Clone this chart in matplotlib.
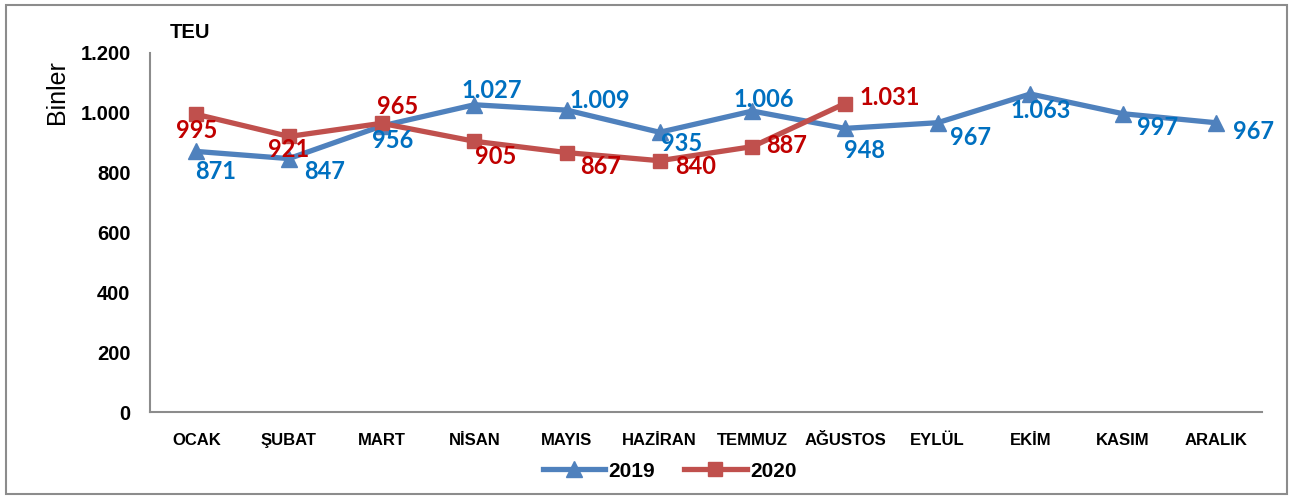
import matplotlib
matplotlib.use("Agg")
from matplotlib import pyplot as plt
from matplotlib.patches import Rectangle
from matplotlib.ticker import FixedLocator, FuncFormatter

months = ["OCAK", "ŞUBAT", "MART", "NİSAN", "MAYIS", "HAZİRAN", "TEMMUZ",
          "AĞUSTOS", "EYLÜL", "EKİM", "KASIM", "ARALIK"]
teu_2019 = [871, 847, 956, 1027, 1009, 935, 1006, 948, 967, 1063, 997, 967]
teu_2020 = [995, 921, 965, 905, 867, 840, 887, 1031]
y_ticks = [0, 200, 400, 600, 800, 1000, 1200]

# label offsets in pixels (dx right, dy down) from each point
off_2019 = [(19, 20), (36, 13), (11, 15), (17, -14), (33, -10), (22, 11),
            (11, -12), (20, 22), (33, 15), (10, 17), (35, 14), (38, 9)]
off_2020 = [(0, 16), (0, 13), (16, -17), (21, 15), (34, 14), (36, 6),
            (34, -1), (45, -6)]

narrow = ["Liberation Sans Narrow", "Liberation Sans", "DejaVu Sans"]
arial = ["Liberation Sans", "DejaVu Sans"]
lab_font = ["Lato", "DejaVu Sans"]


def tr_num(v):
    return f"{int(v):,}".replace(",", ".")


fig = plt.figure(figsize=(12.95, 4.99), dpi=100)
ax = fig.add_axes([0.1158, 0.1743, 0.9745 - 0.1158, 0.8938 - 0.1743])

fig.patches.append(Rectangle((0.005, 0.01), 0.989, 0.98, transform=fig.transFigure,
                             fill=False, edgecolor="#8c8c8c", linewidth=1.5))

x = list(range(len(months)))
ax.plot(x, teu_2019, color="#4F81BD", linewidth=3.8, marker="^", markersize=11,
        label="2019", clip_on=False)
ax.plot(x[:len(teu_2020)], teu_2020, color="#C0504D", linewidth=3.8, marker="s",
        markersize=10.5, label="2020", clip_on=False)

for i, v in enumerate(teu_2019):
    dx, dy = off_2019[i]
    ax.annotate(tr_num(v), (i, v), xytext=(dx * 0.72, -dy * 0.72), textcoords="offset points",
                ha="center", va="center", color="#0070C0", fontsize=17,
                fontweight="bold", family=lab_font)
for i, v in enumerate(teu_2020):
    dx, dy = off_2020[i]
    ax.annotate(tr_num(v), (i, v), xytext=(dx * 0.72, -dy * 0.72), textcoords="offset points",
                ha="center", va="center", color="#C00000", fontsize=17,
                fontweight="bold", family=lab_font)

ax.set_xlim(-0.5, len(months) - 0.5)
ax.set_ylim(0, 1200)
ax.yaxis.set_major_locator(FixedLocator(y_ticks))
ax.yaxis.set_major_formatter(FuncFormatter(lambda v, pos: tr_num(v)))
ax.set_xticks(x)
ax.set_xticklabels(months, fontsize=12, fontweight="bold", family=narrow)
for t in ax.get_yticklabels():
    t.set_fontsize(14.5)
    t.set_fontweight("bold")
    t.set_family(arial)
ax.tick_params(axis="both", length=0)
ax.tick_params(axis="x", pad=15)
ax.tick_params(axis="y", pad=14)

for s in ["top", "right"]:
    ax.spines[s].set_visible(False)
for s in ["left", "bottom"]:
    ax.spines[s].set_color("#8c8c8c")
    ax.spines[s].set_linewidth(1.5)

fig.text(0.147, 0.934, "TEU", fontsize=14.5, fontweight="bold",
         family=arial, ha="center", va="center")
fig.text(0.044, 0.815, "Binler", fontsize=18, rotation=90,
         family=arial, ha="center", va="center")

leg = fig.legend(loc="center", bbox_to_anchor=(0.517, 0.056), ncol=2, frameon=False,
                 handlelength=3.0, columnspacing=1.4, handletextpad=0.15,
                 prop={"family": narrow, "weight": "bold", "size": 15})

fig.savefig("out.png", dpi=100)
